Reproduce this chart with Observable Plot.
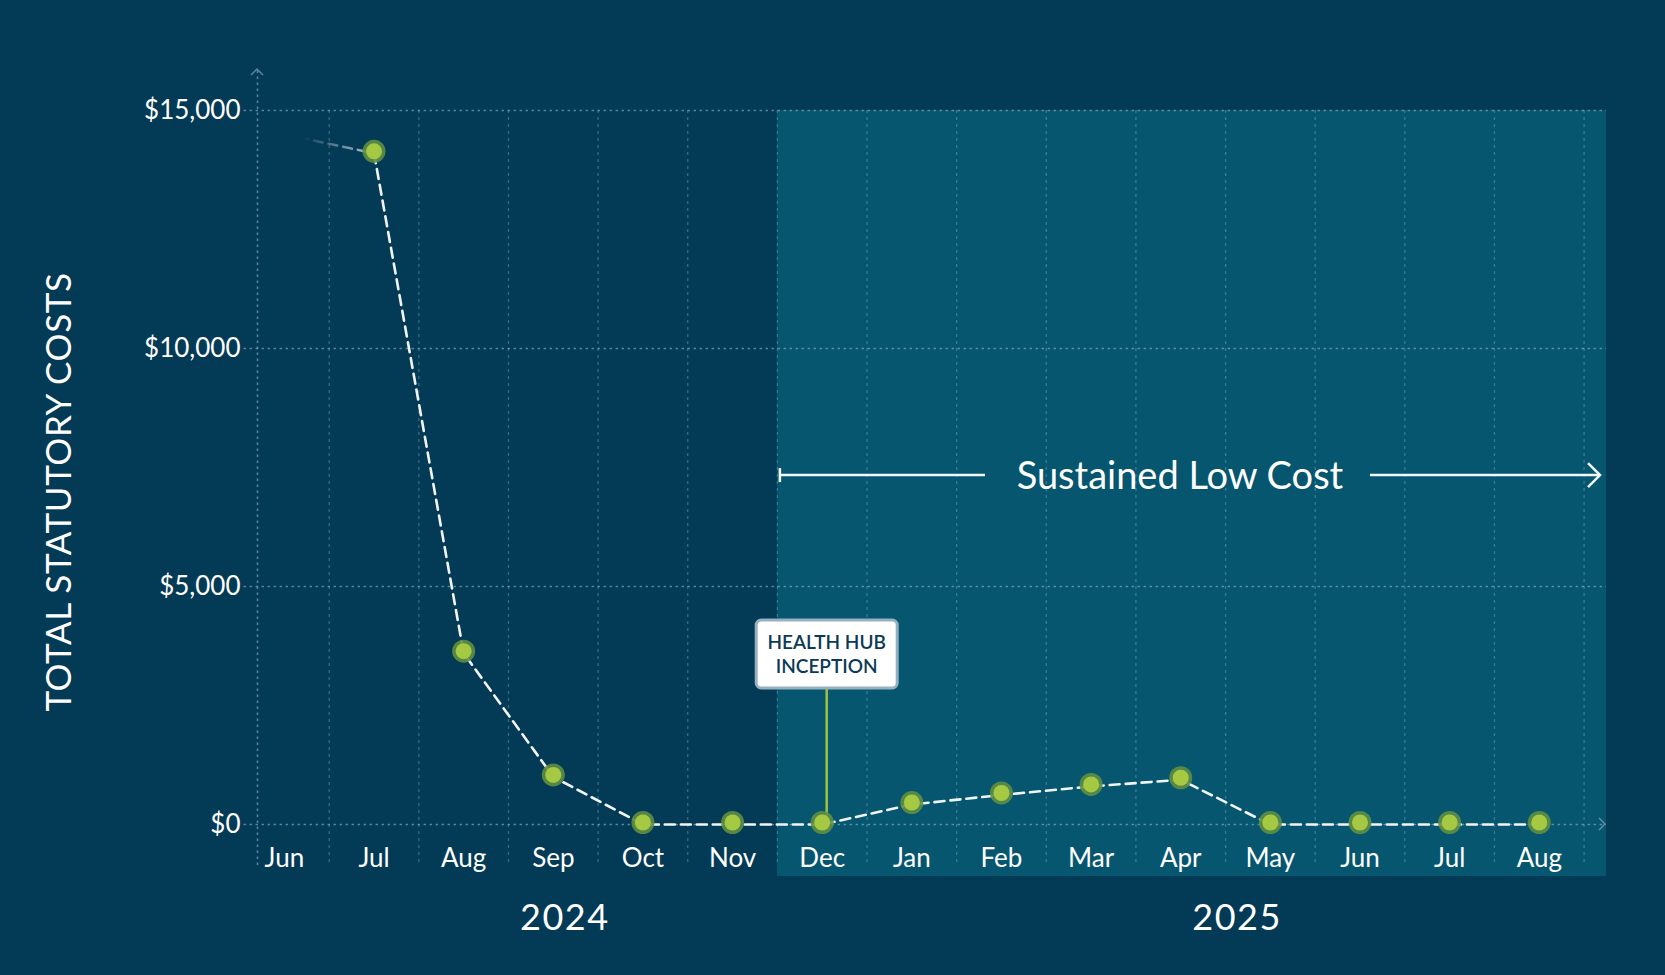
<!DOCTYPE html>
<html><head><meta charset="utf-8">
<script src="https://cdn.jsdelivr.net/npm/d3@7"></script>
<script src="https://cdn.jsdelivr.net/npm/@observablehq/plot@0.6"></script>
<style>
html,body{margin:0;padding:0;background:#033a56;}
body{width:1665px;height:975px;overflow:hidden;font-family:Lato,"Open Sans",sans-serif;}
</style></head><body><div id="chart"></div>
<script>
// ---- data ----
const months = ["Jun","Jul","Aug","Sep","Oct","Nov","Dec","Jan","Feb","Mar","Apr","May","Jun","Jul","Aug"];
const monthYears = [2024,2024,2024,2024,2024,2024,2024,2025,2025,2025,2025,2025,2025,2025,2025];
const costs = [14500,14100,3600,1000,0,0,0,420,620,800,940,0,0,0,0];
const yTicks = [0,5000,10000,15000];
const years = [2024, 2025];
const inceptionMonth = 6; // Dec 2024: Health Hub inception
const yTitle = "TOTAL STATUTORY COSTS";
const periodLabel = "Sustained Low Cost";
const annotationLines = ["HEALTH HUB","INCEPTION"];

const data = months.map((m,i)=>({i, m, year: monthYears[i], v: costs[i]}));
const xMin = -0.3, xMax = 14.75;
const yMax = d3.max(yTicks);

const gridColor = "rgba(140,178,200,0.62)";
const vGridColor = "rgba(120,165,190,0.45)";
const fontFamily = "Lato, 'Open Sans', sans-serif";

function background(index, {x, y}, values, dims) {
  const g = d3.create("svg:g");
  const defs = g.append("defs");
  const lg = defs.append("linearGradient").attr("id","fadeIn")
    .attr("x1",0).attr("x2",1).attr("y1",0).attr("y2",0);
  lg.append("stop").attr("offset",0).attr("stop-color","#c9d6de").attr("stop-opacity",0);
  lg.append("stop").attr("offset",0.22).attr("stop-color","#c9d6de").attr("stop-opacity",0);
  lg.append("stop").attr("offset",0.35).attr("stop-color","#c9d6de").attr("stop-opacity",0.2);
  lg.append("stop").attr("offset",1).attr("stop-color","#dfe7ec").attr("stop-opacity",0.85);
  const x0 = x(inceptionMonth - 0.5);
  const x1 = dims.width - dims.marginRight;
  g.append("rect").attr("x", x0).attr("width", x1 - x0)
    .attr("y", y(yMax)).attr("height", y(0) + 52 - y(yMax))
    .attr("fill", "#06566f");
  return g.node();
}

function decor(index, {x, y}, values, dims) {
  const g = d3.create("svg:g").attr("font-family", fontFamily);
  const left = dims.marginLeft, right = dims.width - dims.marginRight;
  // axis arrow heads
  const topY = y(yMax) - 41;
  g.append("path").attr("d", `M${left-6},${topY+6}L${left},${topY}L${left+6},${topY+6}`)
    .attr("fill","none").attr("stroke",gridColor).attr("stroke-width",1.5);
  g.append("path").attr("d", `M${right-7},${y(0)-6}L${right-1},${y(0)}L${right-7},${y(0)+6}`)
    .attr("fill","none").attr("stroke",gridColor).attr("stroke-width",1.5);
  // y title
  g.append("text").attr("transform", `translate(71,${(y(0)+y(yMax))/2 + 25}) rotate(-90)`)
    .attr("text-anchor","middle").attr("fill","white").attr("font-size",35)
    .attr("letter-spacing", 0.6).text(yTitle);
  // year labels, centred under each year's months
  years.forEach(yr => {
    const idx = d3.range(months.length).filter(i => monthYears[i] === yr);
    g.append("text").attr("x", x(d3.mean(idx)) + 12).attr("y", y(0) + 106)
      .attr("text-anchor","middle").attr("fill","white").attr("font-size",36)
      .attr("letter-spacing",1.5).text(yr);
  });
  // sustained low cost arrow
  const ay = y(7330);
  const ax0 = x(inceptionMonth - 0.5) + 3;
  const ax1 = right - 6;
  const tx = (ax0 + ax1) / 2 - 10;
  const stroke = "#f4f7f9";
  g.append("line").attr("x1",ax0).attr("x2",ax0).attr("y1",ay-7).attr("y2",ay+7).attr("stroke",stroke).attr("stroke-width",2.5);
  g.append("line").attr("x1",ax0).attr("x2",tx-195).attr("y1",ay).attr("y2",ay).attr("stroke",stroke).attr("stroke-width",2.5);
  g.append("line").attr("x1",tx+190).attr("x2",ax1).attr("y1",ay).attr("y2",ay).attr("stroke",stroke).attr("stroke-width",2.5);
  g.append("path").attr("d",`M${ax1-12},${ay-12}L${ax1},${ay}L${ax1-12},${ay+12}`)
    .attr("fill","none").attr("stroke",stroke).attr("stroke-width",2.5);
  g.append("text").attr("x",tx).attr("y",ay+14).attr("text-anchor","middle")
    .attr("fill","white").attr("font-size",38).text(periodLabel);
  // annotation
  const cx = x(inceptionMonth) + 5;
  const boxBottom = y(0) - 136, boxH = 68, boxW = 141;
  g.append("line").attr("x1",cx).attr("x2",cx).attr("y1",boxBottom).attr("y2",y(costs[inceptionMonth]))
    .attr("stroke","#9cc43c").attr("stroke-width",2.5);
  g.append("rect").attr("x",cx-boxW/2).attr("y",boxBottom-boxH).attr("width",boxW).attr("height",boxH)
    .attr("rx",5).attr("fill","white").attr("stroke","#97b1c0").attr("stroke-width",3);
  annotationLines.forEach((t,k)=>{
    g.append("text").attr("x",cx).attr("y",boxBottom-boxH+29+k*24).attr("text-anchor","middle")
      .attr("fill","#0b3a55").attr("font-size",19).attr("font-weight",600).text(t);
  });
  return g.node();
}

const chart = Plot.plot({
  width: 1665,
  height: 975,
  marginLeft: 257,
  marginRight: 59,
  marginTop: 110,
  marginBottom: 151,
  style: {background: "transparent", color: "white", fontFamily, overflow: "visible"},
  x: {type: "linear", domain: [xMin, xMax]},
  y: {domain: [0, yMax]},
  marks: [
    background,
    Plot.ruleX(d3.range(0.5, months.length, 1), {y1: yMax, y2: -860, stroke: vGridColor, strokeWidth: 1.3, strokeDasharray: "3,4"}),
    Plot.ruleY(yTicks, {x1: xMin - 0.15, x2: xMax, stroke: gridColor, strokeWidth: 1.6, strokeDasharray: "2.5,3.5"}),
    Plot.ruleX([xMin], {y1: -860, y2: yMax + 860, stroke: gridColor, strokeWidth: 1.6, strokeDasharray: "2.5,3.5"}),
    Plot.axisY({ticks: yTicks, tickFormat: d => "$" + d3.format(",")(d), tickSize: 0, tickPadding: 17, fontSize: 26, label: null}),
    Plot.axisX({ticks: d3.range(months.length), tickFormat: i => months[i], tickSize: 0, tickPadding: 24, fontSize: 26, label: null}),
    decor,
    Plot.line(data.slice(0, 2), {x: "i", y: "v", stroke: "url(#fadeIn)", strokeWidth: 2.5, strokeDasharray: "9,6"}),
    Plot.line(data.slice(1), {x: "i", y: "v", stroke: "#f2f5f7", strokeWidth: 2.6, strokeDasharray: "10,6"}),
    Plot.dot(data.slice(1), {x: "i", y: "v", r: 11.5, fill: "#5f8f42", fillOpacity: 0.9, dy: -2}),
    Plot.dot(data.slice(1), {x: "i", y: "v", r: 8, fill: "#a6c944", dy: -2})
  ]
});
document.getElementById("chart").appendChild(chart);
</script>
</body></html>
